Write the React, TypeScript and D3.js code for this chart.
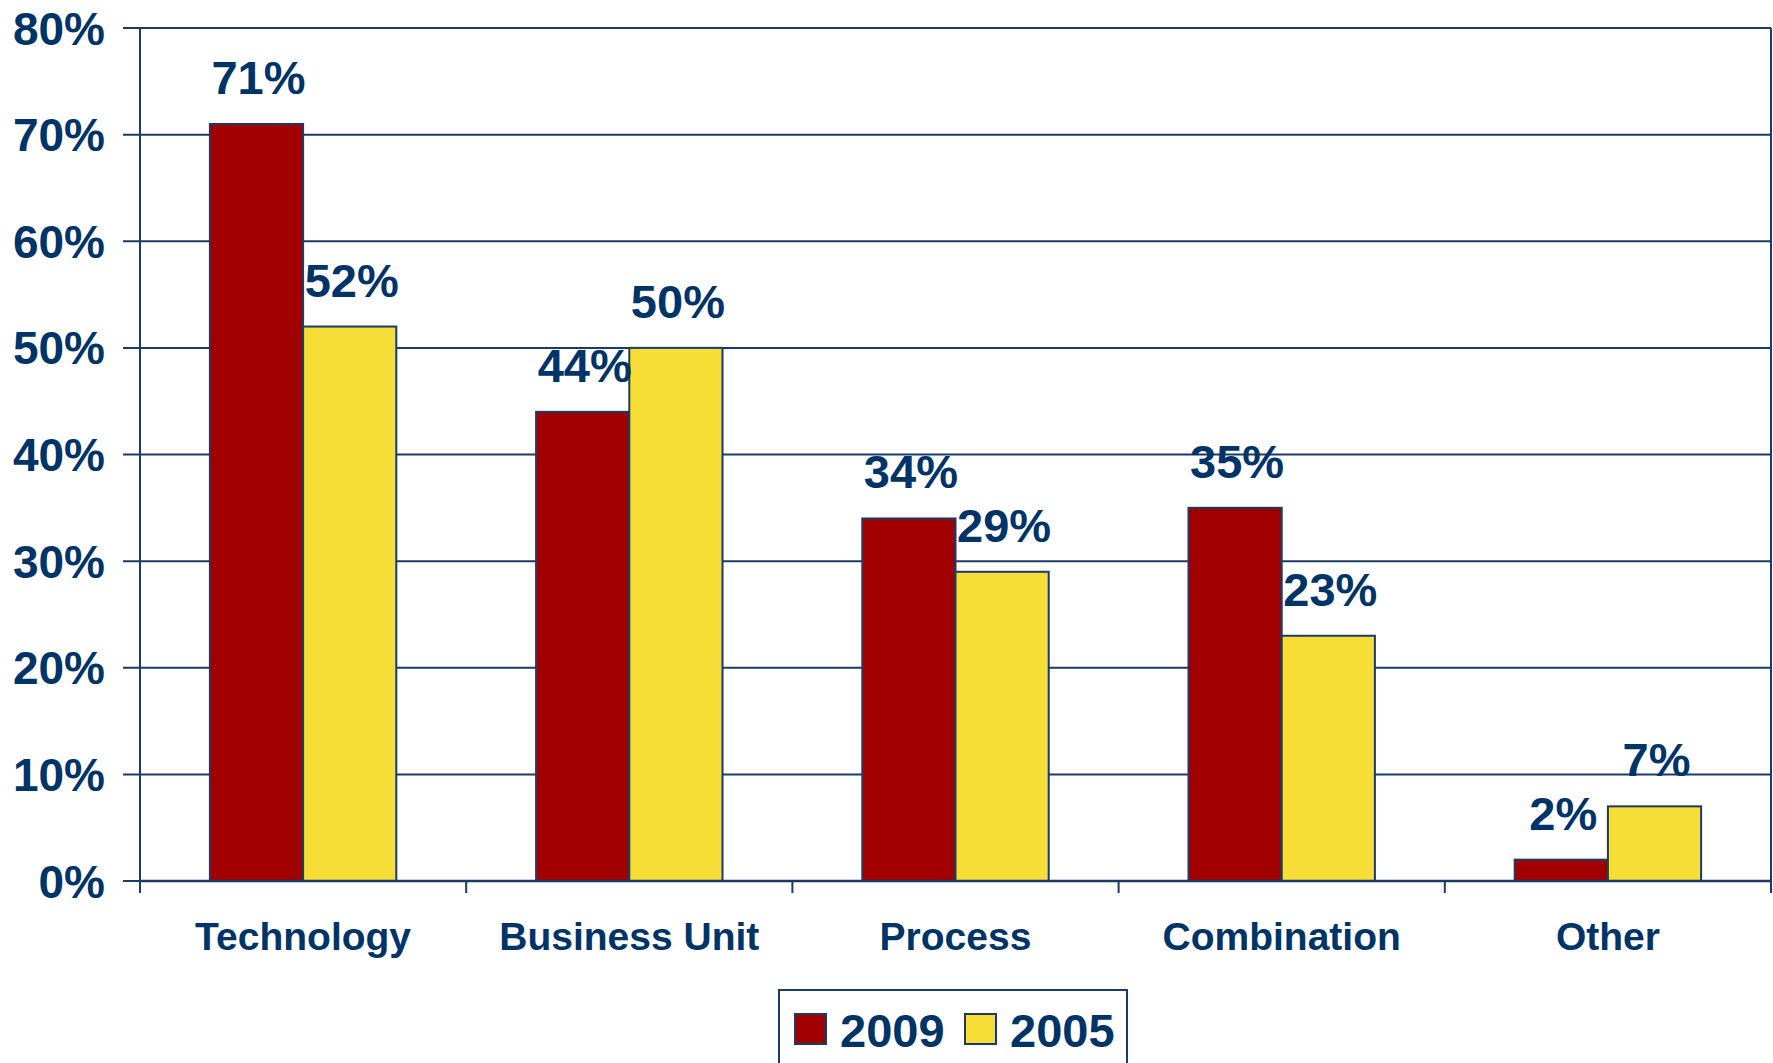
import React from 'react';
import * as d3 from 'd3';

const categories = ['Technology', 'Business Unit', 'Process', 'Combination', 'Other'];
const seriesNames = ['2009', '2005'];
const values2009 = [71, 44, 34, 35, 2];
const values2005 = [52, 50, 29, 23, 7];
const yTicks = [0, 10, 20, 30, 40, 50, 60, 70, 80];

const seriesColors = ['#A20000', '#F7DE37'];
const navy = '#003366';
const lineColor = '#1B3A66';
const font = '"Liberation Sans", Arial, Helvetica, sans-serif';

const width = 1773;
const height = 1063;
const margin = { left: 140, right: 2, top: 28, bottom: 182 };

export default function App() {
    const x = d3.scaleBand<string>()
        .domain(categories)
        .range([margin.left, width - margin.right])
        .padding(0);

    const xSeries = d3.scaleBand<string>()
        .domain(seriesNames)
        .range([0, x.bandwidth()])
        .paddingInner(0)
        .paddingOuter(0.75);

    const y = d3.scaleLinear()
        .domain([0, 80])
        .range([height - margin.bottom, margin.top]);

    const series = [values2009, values2005];
    const y0 = y(0);
    const boundaries = [...categories.map(c => x(c) as number), width - margin.right];

    return (
        <svg
            width={width}
            height={height}
            style={{ position: 'absolute', left: 0, top: 0, background: '#fff' }}
            fontFamily={font}
            fontWeight="bold"
        >
            {/* gridlines + y ticks */}
            <g className="grid">
                {yTicks.map(t => (
                    <line key={t} x1={margin.left - 17} x2={width - margin.right}
                        y1={y(t)} y2={y(t)} stroke={lineColor} strokeWidth={2} />
                ))}
            </g>
            {/* plot frame right side */}
            <line x1={width - margin.right} x2={width - margin.right} y1={y(80)} y2={y0}
                stroke={lineColor} strokeWidth={2} />

            {/* bars */}
            <g className="bars">
                {categories.map((c, i) => seriesNames.map((s, j) => {
                    const v = series[j][i];
                    const bx = (x(c) as number) + (xSeries(s) as number);
                    return (
                        <rect key={c + s} x={bx} y={y(v)} width={xSeries.bandwidth()} height={y0 - y(v)}
                            fill={seriesColors[j]} stroke={lineColor} strokeWidth={2} />
                    );
                }))}
            </g>

            {/* axes */}
            <line x1={margin.left} x2={margin.left} y1={y(80)} y2={y0 + 12} stroke={lineColor} strokeWidth={2} />
            <line x1={margin.left} x2={width - margin.right} y1={y0} y2={y0} stroke={lineColor} strokeWidth={2.5} />
            {boundaries.map((b, i) => (
                <line key={i} x1={b} x2={b} y1={y0} y2={y0 + 12} stroke={lineColor} strokeWidth={2} />
            ))}

            {/* y tick labels */}
            {yTicks.map(t => (
                <text key={t} x={105} y={y(t)} dy="0.36em" textAnchor="end"
                    fontSize={46} fill={navy}>{t}%</text>
            ))}

            {/* category labels */}
            {categories.map(c => (
                <text key={c} x={(x(c) as number) + x.bandwidth() / 2} y={950} textAnchor="middle"
                    fontSize={39} fill={navy}>{c}</text>
            ))}

            {/* data labels */}
            {categories.map((c, i) => seriesNames.map((s, j) => {
                const v = series[j][i];
                const cx = (x(c) as number) + (xSeries(s) as number) + xSeries.bandwidth() / 2;
                return (
                    <text key={c + s} x={cx + 2} y={y(v) - 30} textAnchor="middle"
                        fontSize={47} fill={navy}>{v}%</text>
                );
            }))}

            {/* legend */}
            <g className="legend">
                <rect x={779} y={990} width={348} height={100} fill="#fff" stroke={lineColor} strokeWidth={2} />
                {seriesNames.map((s, j) => (
                    <g key={s} transform={`translate(${795 + j * 170}, 1014)`}>
                        <rect x={0} y={0} width={31} height={30} fill={seriesColors[j]} stroke={lineColor} strokeWidth={2} />
                        <text x={45} y={33} fontSize={47} fill={navy}>{s}</text>
                    </g>
                ))}
            </g>
        </svg>
    );
}
